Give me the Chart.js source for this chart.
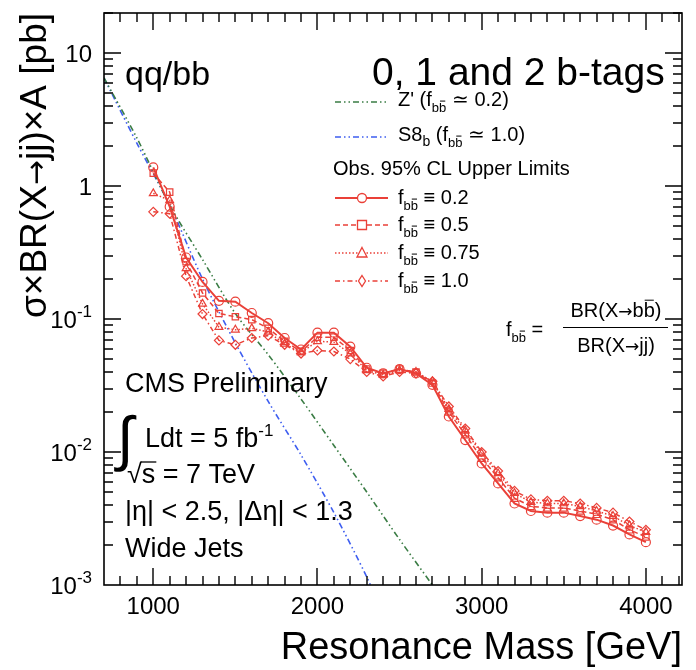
<!DOCTYPE html>
<html>
<head>
<meta charset="utf-8">
<script src="https://cdn.jsdelivr.net/npm/chart.js@4.4.1/dist/chart.umd.min.js"></script>
<style>
  body { margin: 0; background: #fff; }
</style>
</head>
<body>
<canvas id="limits" width="696" height="670"></canvas>
<script>
// resonance masses of the observed limits [GeV]
const masses = [1000, 1100, 1200, 1300, 1400, 1500, 1600, 1700, 1800, 1900, 2000,
                2100, 2200, 2300, 2400, 2500, 2600, 2700, 2800, 2900, 3000,
                3100, 3200, 3300, 3400, 3500, 3600, 3700, 3800, 3900, 4000];

// observed 95% CL upper limits [pb] for each f_bb
const limitF02  = [1.38, 0.70, 0.29, 0.19, 0.137, 0.135, 0.111, 0.093, 0.072, 0.059, 0.079,
                   0.079, 0.062, 0.043, 0.039, 0.042, 0.039, 0.032, 0.0185, 0.0123, 0.0082,
                   0.0058, 0.0041, 0.0036, 0.0035, 0.0035, 0.0033, 0.0031, 0.0028, 0.0024, 0.0021];
const limitF05  = [1.25, 0.90, 0.27, 0.157, 0.110, 0.104, 0.099, 0.085, 0.068, 0.057, 0.073,
                   0.073, 0.058, 0.042, 0.039, 0.042, 0.040, 0.033, 0.020, 0.0135, 0.0090,
                   0.0064, 0.0045, 0.0039, 0.0038, 0.0038, 0.0036, 0.0034, 0.0031, 0.0026, 0.0023];
const limitF075 = [0.88, 0.78, 0.24, 0.130, 0.087, 0.083, 0.085, 0.080, 0.065, 0.056, 0.068,
                   0.067, 0.055, 0.041, 0.038, 0.041, 0.040, 0.034, 0.021, 0.0145, 0.0097,
                   0.0069, 0.0049, 0.0042, 0.0041, 0.0041, 0.0039, 0.0036, 0.0033, 0.0028, 0.0025];
const limitF10  = [0.64, 0.62, 0.21, 0.109, 0.069, 0.064, 0.072, 0.075, 0.064, 0.055, 0.058,
                   0.057, 0.050, 0.040, 0.037, 0.040, 0.039, 0.034, 0.022, 0.015, 0.010,
                   0.0072, 0.0051, 0.0044, 0.0043, 0.0043, 0.0041, 0.0038, 0.0035, 0.0030, 0.0026];

// model cross sections
const zprimeMass = [700, 900, 1100, 1300, 1500, 1700, 1900, 2100, 2300, 2500, 2700];
const zprimeXsec = [6.5, 2.3, 0.72, 0.28, 0.11, 0.054, 0.025, 0.0112, 0.005, 0.0022, 0.001];
const s8bMass = [700, 900, 1100, 1300, 1500, 1700, 1900, 2100, 2300, 2400];
const s8bXsec = [6.5, 2.1, 0.72, 0.20, 0.066, 0.024, 0.0095, 0.0035, 0.00115, 0.0006];

// axis ticks
const xTicks = [1000, 2000, 3000, 4000];
const yTicks = [10, 1, 0.1, 0.01, 0.001];
const yTickLabels = [['10', ''], ['1', ''], ['10', '-1'], ['10', '-2'], ['10', '-3']];

const FONT = '"Liberation Sans", Arial, Helvetica, sans-serif';
const SYM = '"DejaVu Sans", sans-serif';
const font = (px, fam) => px + 'px ' + (fam || FONT);
const RED = '#ea4038';
const GREEN = '#3a7c44';
const BLUE = '#3e5ef0';

function pts(xs, ys) {
  return xs.map((x, i) => ({ x: x, y: ys[i] }));
}

// text pieces: {t, size, dy, bar, fam}; bar puts an overline on the last char
function drawRuns(ctx, x, y, runs) {
  ctx.textAlign = 'left';
  ctx.textBaseline = 'alphabetic';
  for (const r of runs) {
    ctx.font = font(r.size, r.fam);
    const w = ctx.measureText(r.t).width;
    const by = y + (r.dy || 0);
    ctx.fillText(r.t, x, by);
    if (r.bar) {
      const w0 = ctx.measureText(r.t.slice(0, -1)).width;
      ctx.lineWidth = 1;
      ctx.beginPath();
      ctx.moveTo(x + w0 + 1, by - r.size * 0.84);
      ctx.lineTo(x + w - 1, by - r.size * 0.84);
      ctx.stroke();
    }
    x += w;
  }
  return x;
}

function runsWidth(ctx, runs) {
  let w = 0;
  for (const r of runs) { ctx.font = font(r.size, r.fam); w += ctx.measureText(r.t).width; }
  return w;
}

function drawMarker(ctx, kind, x, y, color) {
  ctx.save();
  ctx.strokeStyle = color;
  ctx.fillStyle = '#fff';
  ctx.lineWidth = 1.3;
  ctx.setLineDash([]);
  ctx.beginPath();
  if (kind === 'circle') ctx.arc(x, y, 4.5, 0, Math.PI * 2);
  if (kind === 'rect') ctx.rect(x - 4.5, y - 4.5, 9, 9);
  if (kind === 'triangle') { ctx.moveTo(x, y - 5.5); ctx.lineTo(x + 5, y + 4); ctx.lineTo(x - 5, y + 4); ctx.closePath(); }
  if (kind === 'rectRot') { ctx.moveTo(x, y - 5.5); ctx.lineTo(x + 3.5, y); ctx.lineTo(x, y + 5.5); ctx.lineTo(x - 3.5, y); ctx.closePath(); }
  ctx.fill();
  ctx.stroke();
  ctx.restore();
}

function legendLine(ctx, y, color, dash, width, marker) {
  ctx.save();
  ctx.strokeStyle = color;
  ctx.lineWidth = width;
  ctx.setLineDash(dash);
  ctx.beginPath();
  ctx.moveTo(335, y);
  ctx.lineTo(388, y);
  ctx.stroke();
  ctx.restore();
  if (marker) drawMarker(ctx, marker, 362, y, color);
}

const bb = size => ({ t: 'bb', size: size, dy: 6, bar: true });

const rootDecor = {
  id: 'rootDecor',
  afterDatasetsDraw(chart) {
    const ctx = chart.ctx;
    const a = chart.chartArea;
    const xs = chart.scales.x, ys = chart.scales.y;
    ctx.save();
    ctx.setLineDash([]);
    ctx.strokeStyle = '#000';
    ctx.fillStyle = '#000';

    // frame with inward ticks on all four sides
    ctx.lineWidth = 1.6;
    ctx.strokeRect(a.left, a.top, a.right - a.left, a.bottom - a.top);
    ctx.lineWidth = 1.4;
    ctx.beginPath();
    for (let m = 800; m <= 4200; m += 100) {
      const px = Math.round(xs.getPixelForValue(m));
      const len = m % 1000 === 0 ? 17 : 9;
      ctx.moveTo(px, a.bottom); ctx.lineTo(px, a.bottom - len);
      ctx.moveTo(px, a.top); ctx.lineTo(px, a.top + len);
    }
    for (let d = -3; d <= 1; d++) {
      for (let k = 1; k <= 9; k++) {
        const v = k * Math.pow(10, d);
        if (v > ys.max || v <= ys.min) continue;
        const py = Math.round(ys.getPixelForValue(v));
        const len = k === 1 ? 17 : 9;
        ctx.moveTo(a.left, py); ctx.lineTo(a.left + len, py);
        ctx.moveTo(a.right, py); ctx.lineTo(a.right - len, py);
      }
    }
    ctx.stroke();

    // tick labels
    ctx.textBaseline = 'alphabetic';
    ctx.font = font(24);
    ctx.textAlign = 'center';
    xTicks.forEach(v => ctx.fillText(String(v), xs.getPixelForValue(v), a.bottom + 29));
    yTicks.forEach((v, i) => {
      const py = ys.getPixelForValue(v);
      const [base, sup] = yTickLabels[i];
      const runs = [{ t: base, size: 24 }];
      if (sup) runs.push({ t: sup, size: 17, dy: -11 });
      const w = runsWidth(ctx, runs);
      drawRuns(ctx, 92 - w, py + 9, runs);
    });

    // axis titles
    ctx.font = font(38);
    ctx.textAlign = 'right';
    ctx.textBaseline = 'alphabetic';
    ctx.fillText('Resonance Mass [GeV]', a.right, 659);
    ctx.save();
    ctx.translate(46, a.top);
    ctx.rotate(-Math.PI / 2);
    const yTitle = [
      { t: '\u03C3\u00D7BR(X', size: 37 },
      { t: '\u2192', size: 30, fam: SYM },
      { t: 'jj)\u00D7A [pb]', size: 37 }
    ];
    drawRuns(ctx, -runsWidth(ctx, yTitle), 0, yTitle);
    ctx.restore();

    // header texts
    ctx.textAlign = 'left';
    ctx.font = font(34);
    ctx.fillText('qq/bb', 125, 85);
    ctx.font = font(39);
    ctx.fillText('0, 1 and 2 b-tags', 372, 85);

    // CMS labels
    ctx.font = font(27);
    ctx.fillText('CMS Preliminary', 125, 392);
    ctx.font = font(60);
    ctx.textBaseline = 'middle';
    ctx.fillText('\u222B', 117, 442);
    ctx.textBaseline = 'alphabetic';
    drawRuns(ctx, 145, 447, [{ t: 'Ldt = 5 fb', size: 27 }, { t: '-1', size: 17, dy: -11 }]);
    ctx.font = font(27);
    ctx.fillText('\u221As = 7 TeV', 127, 483);
    const rw = ctx.measureText('\u221A').width;
    const sw = ctx.measureText('s').width;
    ctx.lineWidth = 1.3;
    ctx.beginPath();
    ctx.moveTo(127 + rw - 1, 462); ctx.lineTo(127 + rw + sw + 1, 462);
    ctx.stroke();
    ctx.fillText('|\u03B7| < 2.5, |\u0394\u03B7| < 1.3', 125, 520);
    ctx.fillText('Wide Jets', 125, 557);

    // f_bb definition
    drawRuns(ctx, 506, 336, [{ t: 'f', size: 20 }, bb(13), { t: ' =', size: 20 }]);
    const num = [{ t: 'BR(X', size: 20 }, { t: '\u2192', size: 17, fam: SYM }, { t: 'b', size: 20 },
                 { t: 'b', size: 20, bar: true }, { t: ')', size: 20 }];
    const nw = runsWidth(ctx, num);
    drawRuns(ctx, 616 - nw / 2, 317, num);
    ctx.lineWidth = 1.2;
    ctx.beginPath(); ctx.moveTo(563, 327.5); ctx.lineTo(668, 327.5); ctx.stroke();
    const den = [{ t: 'BR(X', size: 20 }, { t: '\u2192', size: 17, fam: SYM }, { t: 'jj)', size: 20 }];
    drawRuns(ctx, 616 - runsWidth(ctx, den) / 2, 352, den);

    // legend
    legendLine(ctx, 102, GREEN, [6, 3, 1.5, 3, 1.5, 3], 1.5);
    drawRuns(ctx, 398, 106, [{ t: "Z' (f", size: 20 }, bb(13), { t: ' \u2243 0.2)', size: 20 }]);
    legendLine(ctx, 137, BLUE, [6, 3, 1.5, 3, 1.5, 3], 1.5);
    drawRuns(ctx, 398, 141, [{ t: 'S8', size: 20 }, { t: 'b', size: 14, dy: 5 }, { t: ' (f', size: 20 }, bb(13), { t: ' \u2243 1.0)', size: 20 }]);
    drawRuns(ctx, 333, 175, [{ t: 'Obs. 95% CL Upper Limits', size: 20 }]);
    const rows = [
      [198, [], 2, 'circle', '0.2'],
      [225, [5, 3], 1.5, 'rect', '0.5'],
      [253, [1.5, 2], 1.5, 'triangle', '0.75'],
      [281, [5, 3, 1.5, 3], 1.5, 'rectRot', '1.0']
    ];
    rows.forEach(([y, dash, w, mk, val]) => {
      legendLine(ctx, y, RED, dash, w, mk);
      drawRuns(ctx, 398, y + 6, [{ t: 'f', size: 20 }, bb(13), { t: ' \u2261 ' + val, size: 20 }]);
    });

    ctx.restore();
  }
};

function limitSet(label, values, dash, width, style) {
  return {
    label: label,
    data: pts(masses, values),
    borderColor: RED,
    borderWidth: width,
    borderDash: dash,
    pointStyle: style,
    pointRadius: 4.5,
    pointBorderWidth: 1.2,
    pointBorderColor: RED,
    pointBackgroundColor: 'rgba(255,255,255,0)',
    tension: 0,
    fill: false
  };
}

new Chart(document.getElementById('limits').getContext('2d'), {
  type: 'line',
  data: {
    datasets: [
      limitSet('f = 0.2', limitF02, [], 2, 'circle'),
      limitSet('f = 0.5', limitF05, [5, 3], 1.5, 'rect'),
      limitSet('f = 0.75', limitF075, [1.5, 2], 1.5, 'triangle'),
      limitSet('f = 1.0', limitF10, [5, 3, 1.5, 3], 1.5, 'rectRot'),
      {
        label: "Z'",
        data: pts(zprimeMass, zprimeXsec),
        borderColor: GREEN,
        borderWidth: 1.6,
        borderDash: [6, 3, 1.5, 3, 1.5, 3],
        pointRadius: 0,
        tension: 0.3,
        fill: false
      },
      {
        label: 'S8b',
        data: pts(s8bMass, s8bXsec),
        borderColor: BLUE,
        borderWidth: 1.6,
        borderDash: [6, 3, 1.5, 3, 1.5, 3],
        pointRadius: 0,
        tension: 0.3,
        fill: false
      }
    ]
  },
  options: {
    responsive: false,
    animation: false,
    devicePixelRatio: 1,
    layout: { padding: { left: 104, right: 14, top: 13, bottom: 85 } },
    scales: {
      x: { type: 'linear', min: 700, max: 4220, display: false },
      y: { type: 'logarithmic', min: 0.001, max: 20, display: false }
    },
    plugins: {
      legend: { display: false },
      tooltip: { enabled: false }
    }
  },
  plugins: [rootDecor]
});
</script>
</body>
</html>
